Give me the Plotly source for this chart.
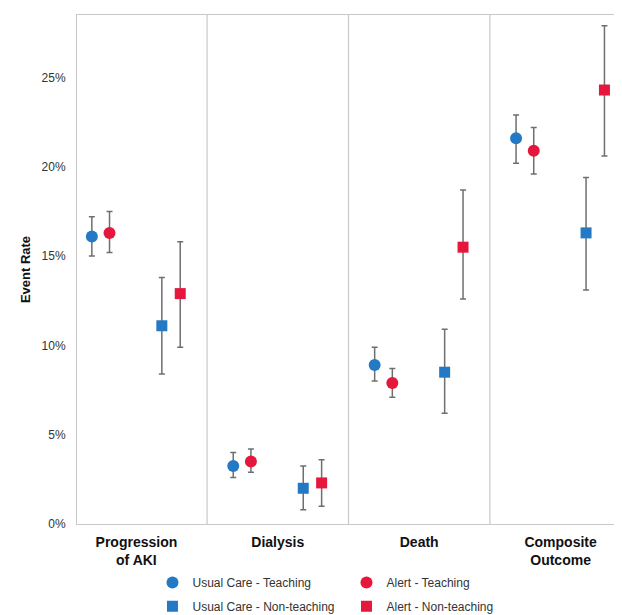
import plotly.graph_objects as go

outcomes = ["Progression<br>of AKI", "Dialysis", "Death", "Composite<br>Outcome"]
series_names = ["Usual Care - Teaching", "Alert - Teaching",
                "Usual Care - Non-teaching", "Alert - Non-teaching"]
# event rates (%) per outcome
uc_teach = [16.1, 3.25, 8.9, 21.6]
uc_teach_lo = [15.0, 2.6, 8.0, 20.2]
uc_teach_hi = [17.2, 4.0, 9.9, 22.9]
al_teach = [16.3, 3.5, 7.9, 20.9]
al_teach_lo = [15.2, 2.9, 7.1, 19.6]
al_teach_hi = [17.5, 4.2, 8.7, 22.2]
uc_non = [11.1, 2.0, 8.5, 16.3]
uc_non_lo = [8.4, 0.8, 6.2, 13.1]
uc_non_hi = [13.8, 3.25, 10.9, 19.4]
al_non = [12.9, 2.3, 15.5, 24.3]
al_non_lo = [9.9, 1.0, 12.6, 20.6]
al_non_hi = [15.8, 3.6, 18.7, 27.9]

y_ticks = [0, 5, 10, 15, 20, 25]
y_ticklabels = ["0%", "5%", "10%", "15%", "20%", "25%"]

BLUE = "#2479c4"
RED = "#e6173c"
offsets = [-0.315, -0.19, 0.18, 0.31]
symbols = ["circle", "circle", "square", "square"]
colors = [BLUE, RED, BLUE, RED]
legends = ["legend", "legend", "legend2", "legend2"]
vals = [uc_teach, al_teach, uc_non, al_non]
los = [uc_teach_lo, al_teach_lo, uc_non_lo, al_non_lo]
his = [uc_teach_hi, al_teach_hi, uc_non_hi, al_non_hi]

fig = go.Figure()
for name, off, sym, col, lg, v, lo, hi in zip(series_names, offsets, symbols, colors, legends, vals, los, his):
    xs = [i + off for i in range(len(outcomes))]
    fig.add_trace(go.Scatter(
        x=xs, y=v, mode="markers", name=name, legend=lg,
        marker=dict(symbol=sym, size=12 if sym == "circle" else 11, color=col),
        error_y=dict(type="data", symmetric=False,
                     array=[h - m for h, m in zip(hi, v)],
                     arrayminus=[m - l for m, l in zip(v, lo)],
                     color="#6f6f6f", thickness=1.5, width=3),
    ))

for b in [0.5, 1.5, 2.5]:
    fig.add_shape(type="line", xref="x", yref="paper", x0=b, x1=b, y0=0, y1=1,
                  line=dict(color="#c8c8c8", width=1.2))

leg_common = dict(orientation="h", x=0.139, xanchor="left", yanchor="top",
                  entrywidth=149, font=dict(size=12, color="#333"), itemwidth=30)

fig.update_layout(
    width=614, height=607,
    margin=dict(l=69, r=2, t=7, b=91, autoexpand=False),
    paper_bgcolor="white", plot_bgcolor="white",
    font=dict(family="Liberation Sans, Arial, sans-serif", color="#222"),
    showlegend=True,
    legend=dict(y=-0.0865, **leg_common),
    legend2=dict(y=-0.133, **leg_common),
    xaxis=dict(range=[-0.42, 3.42], tickvals=[0, 1, 2, 3], ticktext=["<b>%s</b>" % o for o in outcomes],
               tickfont=dict(size=14, color="#111"), showgrid=False, zeroline=False,
               showline=True, linecolor="#c8c8c8", mirror=True, ticks="", ticklabelstandoff=5),
    yaxis=dict(range=[0, 28.5], tickvals=y_ticks, ticktext=y_ticklabels,
               tickfont=dict(size=12, color="#333"), showgrid=False, zeroline=False,
               showline=True, linecolor="#c8c8c8", mirror=True, ticks="", ticklabelstandoff=8,
               title=dict(text="<b>Event Rate</b>", font=dict(size=13, color="#111"), standoff=8)),
)

fig.write_html("out.html")
